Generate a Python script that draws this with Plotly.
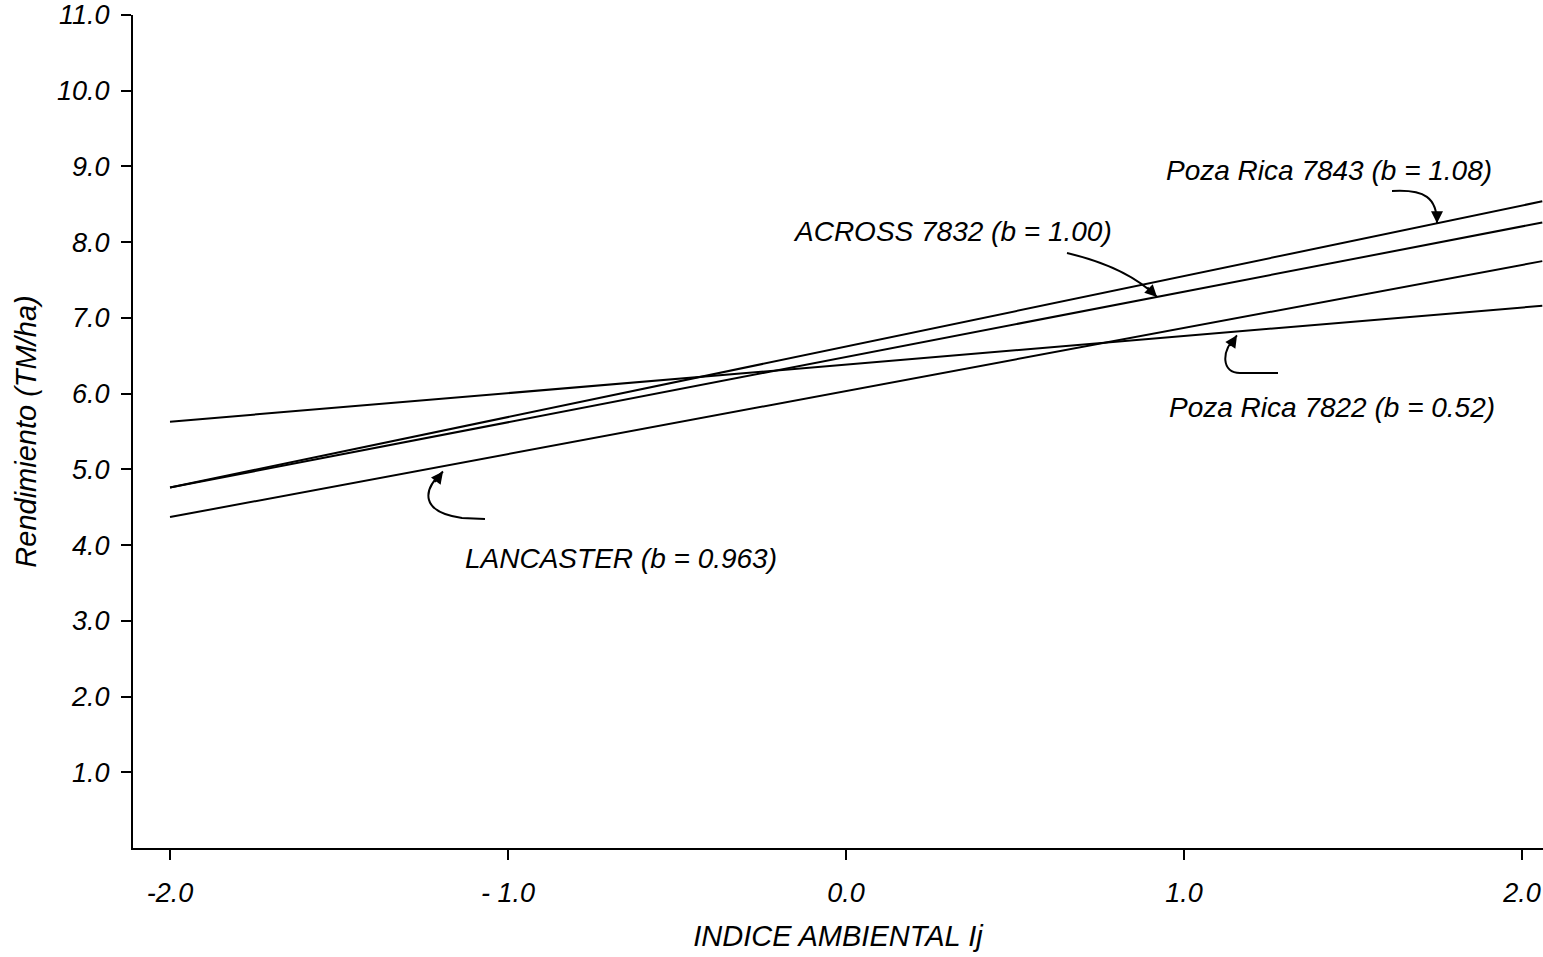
import numpy as np
import plotly.graph_objects as go

# ---- data ----
x_env = [-2.0, 2.06]                      # INDICE AMBIENTAL Ij (line ends)
poza_rica_7843 = [4.76, 8.54]
across_7832 = [4.76, 8.26]
lancaster = [4.37, 7.75]
poza_rica_7822 = [5.63, 7.16]

series_names = ["Poza Rica 7843", "ACROSS 7832", "LANCASTER", "Poza Rica 7822"]
labels = ["Poza Rica 7843 (b = 1.08)", "ACROSS 7832 (b = 1.00)",
          "LANCASTER (b = 0.963)", "Poza Rica 7822 (b = 0.52)"]

y_tickvals = [1, 2, 3, 4, 5, 6, 7, 8, 9, 10, 11]
y_ticktext = ["1.0", "2.0", "3.0", "4.0", "5.0", "6.0", "7.0", "8.0", "9.0", "10.0", "11.0"]
x_tickvals = [-2, -1, 0, 1, 2]
x_ticktext = ["-2.0", "- 1.0", "0.0", "1.0", "2.0"]

# ---- layout geometry (page pixels; body margin removed below) ----
W, H = 1543, 957
PLOT_L, PLOT_R, PLOT_T, PLOT_B = 133, 1543, 15, 848
ML, MT, MR, MB = PLOT_L, PLOT_T, W - PLOT_R, H - PLOT_B
X0, X1 = -2.1095, 2.0621
Y0, Y1 = 0.0, 11.0
PW, PH = PLOT_R - PLOT_L, PLOT_B - PLOT_T


def dx(px):
    return X0 + (px - PLOT_L) / PW * (X1 - X0)


def dy(py):
    return Y0 + (PLOT_B - py) / PH * (Y1 - Y0)


FONT = "Liberation Sans, Arial, Helvetica, sans-serif"

fig = go.Figure()
for name, ys in zip(series_names,
                    [poza_rica_7843, across_7832, lancaster, poza_rica_7822]):
    fig.add_trace(go.Scatter(x=x_env, y=ys, mode="lines", name=name,
                             line=dict(color="black", width=2)))

# ---- labels ----
label_pos = [(1329, 170), (952, 231), (621, 558), (1332, 407)]
for txt, (px, py) in zip(labels, label_pos):
    fig.add_annotation(x=dx(px), y=dy(py), text=txt, showarrow=False,
                       xanchor="center", yanchor="middle",
                       font=dict(family=FONT, size=28, style="italic", color="black"))

# ---- curved leader arrows ----
def on_line(ys, px, off=0.0):
    xv = dx(px)
    return xv, float(np.interp(xv, x_env, ys)) + off

leaders = [
    (poza_rica_7843, 1437, 0.0, [(1392, 191), (1425, 189), (1437, 198)], (0, -13), "C"),
    (across_7832, 1157, 0.0, [(1067, 253), (1105, 262), (1135, 275)], (-11, -11), "C"),
    (poza_rica_7822, 1237, -0.05, [(1278, 373), (1240, 373), (1222, 373), (1220, 352)], (-8, 12), "LC"),
    (lancaster, 443, -0.07, [(485, 519), (462, 518), (420, 512), (422, 490)], (-9, 12), "LC"),
]
for ys, tpx, off, pts, (ax, ay), kind in leaders:
    tx, ty = on_line(ys, tpx, off)
    d = [(dx(a), dy(b)) for a, b in pts]
    if kind == "C":
        path = (f"M {d[0][0]},{d[0][1]} C {d[1][0]},{d[1][1]} "
                f"{d[2][0]},{d[2][1]} {tx},{ty}")
    else:
        path = (f"M {d[0][0]},{d[0][1]} L {d[1][0]},{d[1][1]} C {d[2][0]},{d[2][1]} "
                f"{d[3][0]},{d[3][1]} {tx},{ty}")
    fig.add_shape(type="path", path=path, xref="x", yref="y",
                  line=dict(color="black", width=2))
    fig.add_annotation(x=tx, y=ty, ax=ax, ay=ay, text="", showarrow=True,
                       arrowhead=2, arrowsize=1.5, arrowwidth=1.6,
                       arrowcolor="black", standoff=0)

fig.update_layout(
    width=W, height=H, autosize=False,
    margin=dict(l=ML, r=MR, t=MT, b=MB, pad=0),
    paper_bgcolor="white", plot_bgcolor="white",
    showlegend=False,
    font=dict(family=FONT, size=27, style="italic", color="black"),
)
fig.update_xaxes(
    range=[X0, X1], showgrid=False, zeroline=False,
    showline=True, linecolor="black", linewidth=2,
    ticks="outside", ticklen=10, tickwidth=2, tickcolor="black",
    tickvals=x_tickvals, ticktext=x_ticktext, ticklabelstandoff=10,
    ticklabeloverflow="allow",
    tickfont=dict(family=FONT, size=27, style="italic", color="black"),
    title=dict(text="INDICE AMBIENTAL Ij", standoff=18,
               font=dict(family=FONT, size=29, style="italic", color="black")),
    automargin=False,
)
fig.update_yaxes(
    range=[Y0, Y1], showgrid=False, zeroline=False,
    showline=True, linecolor="black", linewidth=2,
    ticks="outside", ticklen=10, tickwidth=2, tickcolor="black",
    tickvals=y_tickvals, ticktext=y_ticktext, ticklabelstandoff=6,
    ticklabeloverflow="allow",
    tickfont=dict(family=FONT, size=27, style="italic", color="black"),
    title=dict(text="Rendimiento (TM/ha)", standoff=12,
               font=dict(family=FONT, size=29, style="italic", color="black")),
    automargin=False,
)

fig.write_html(
    "out.html",
    config={"displayModeBar": False},
    post_script="document.body.style.margin='0';document.body.style.overflow='hidden';",
)
